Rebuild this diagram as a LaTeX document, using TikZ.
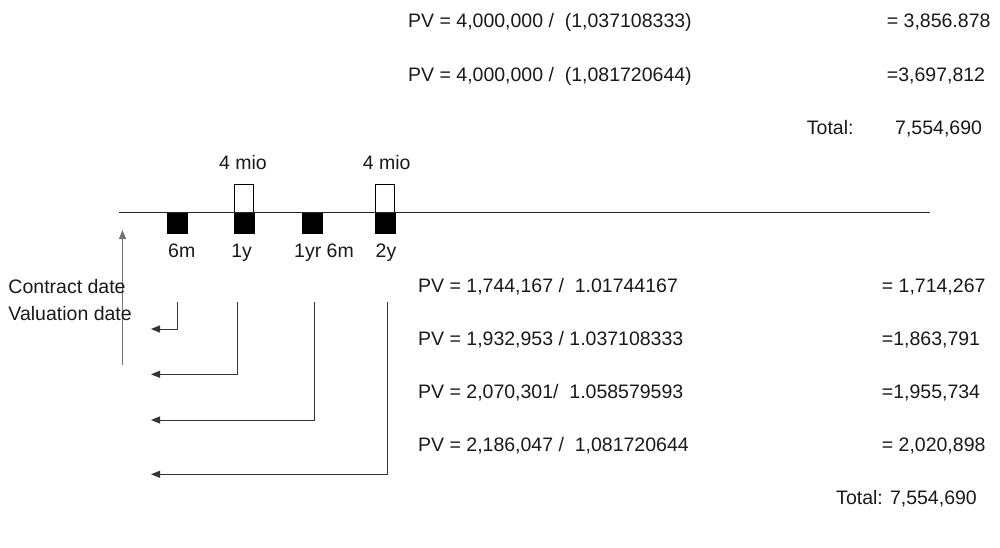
\documentclass[tikz,border=0pt]{standalone}
\usepackage{fontspec}
\setmainfont{Liberation Sans}
\usetikzlibrary{arrows.meta}
\begin{document}
\begin{tikzpicture}[x=1pt,y=-1pt,
  txt/.style={inner sep=0pt,font=\fontsize{19.5}{23}\selectfont,text=black!90},
  lt/.style={txt,anchor=base west},
  ct/.style={txt,anchor=base},
  blk/.style={draw=black,fill=black,minimum width=20pt,minimum height=20pt,inner sep=0pt},
  wht/.style={draw=black,fill=white,line width=0.8pt,minimum width=19pt,minimum height=29pt,inner sep=0pt},
  tip/.style={-{Triangle[length=9pt,width=7pt]}},
  conn/.style={draw=black!80,line width=1pt,tip},
]
\useasboundingbox (0,0) rectangle (1000,548);
% top formulas
\node[lt] (t1) at (408,28) {PV = 4,000,000 / \ (1,037108333)};
\node[lt] (t1r) at (886.7,28) {= 3,856.878};
\node[lt] (t2) at (408,82) {PV = 4,000,000 / \ (1,081720644)};
\node[lt] (t2r) at (886.7,82) {=3,697,812};
\node[lt] (totl) at (806.7,135) {Total:};
\node[lt] (totv) at (895,135) {7,554,690};
% timeline
\coordinate (tl0) at (119,212.7);
\coordinate (tl1) at (930,212.7);
\node[wht] (w1) at (243.7,198.6) {};
\node[wht] (w2) at (384.7,198.6) {};
\draw[line width=1pt,black!85] (tl0) -- (tl1);
\node[blk] (s1) at (177.3,223.3) {};
\node[blk] (s2) at (243.7,223.3) {};
\node[blk] (s3) at (311.7,223.3) {};
\node[blk] (s4) at (384.7,223.3) {};
\node[ct] (m1) at (243,169.7) {4 mio};
\node[ct] (m2) at (386.7,169.7) {4 mio};
\node[ct] (l1) at (181.7,257) {6m};
\node[ct] (l2) at (241.7,257) {1y};
\node[ct] (l3) at (324,257) {1yr 6m};
\node[ct] (l4) at (386,257) {2y};
% contract / valuation
\coordinate (va) at (122.5,365);
\coordinate (vb) at (122.5,230);
\draw[draw=black!55,line width=0.9pt,tip] (va) -- (vb);
\node[lt] (cd) at (8.3,293) {Contract date};
\node[lt] (vd) at (8.3,320.3) {Valuation date};
% brackets
\coordinate (b1) at (177.7,301.7); \coordinate (e1) at (151,329);
\coordinate (b2) at (237,301.7);   \coordinate (e2) at (151,374.3);
\coordinate (b3) at (314.3,301.7); \coordinate (e3) at (151,420);
\coordinate (b4) at (387.3,301.7); \coordinate (e4) at (151,474.3);
\draw[conn] (b1) |- (e1);
\draw[conn] (b2) |- (e2);
\draw[conn] (b3) |- (e3);
\draw[conn] (b4) |- (e4);
% bottom formulas
\node[lt] (r1) at (418,292) {PV = 1,744,167 / \ 1.01744167};
\node[lt] (r1r) at (881.7,292) {= 1,714,267};
\node[lt] (r2) at (418,345) {PV = 1,932,953 / 1.037108333};
\node[lt] (r2r) at (881.7,345) {=1,863,791};
\node[lt] (r3) at (418,398) {PV = 2,070,301/ \ 1.058579593};
\node[lt] (r3r) at (881.7,398) {=1,955,734};
\node[lt] (r4) at (418,451) {PV = 2,186,047 / \ 1,081720644};
\node[lt] (r4r) at (881.7,451) {= 2,020,898};
\node[txt,anchor=base east] (tot2) at (977,504) {Total: 7,554,690};
\end{tikzpicture}
\end{document}
